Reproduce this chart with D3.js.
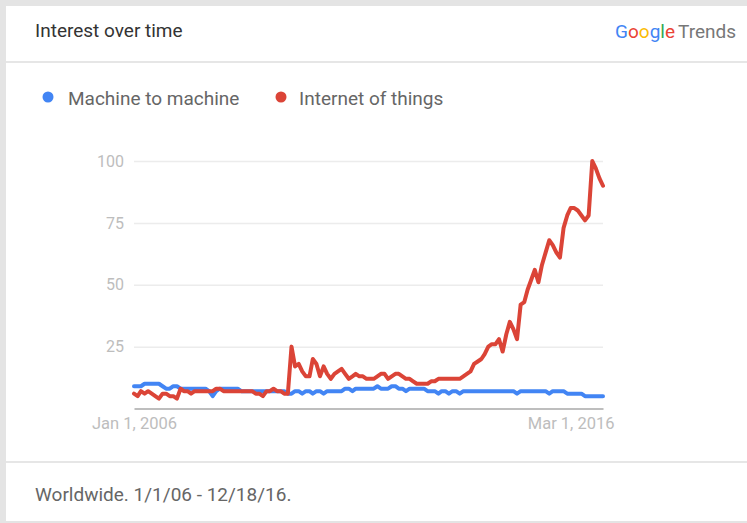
<!DOCTYPE html>
<html>
<head>
<meta charset="utf-8">
<script src="https://cdn.jsdelivr.net/npm/d3@7"></script>
<style>
  html, body { margin: 0; padding: 0; background: #e4e4e4; }
  body { width: 747px; height: 523px; overflow: hidden; font-family: Roboto, "Noto Sans", sans-serif; }
</style>
</head>
<body>
<svg id="chart" width="747" height="523"></svg>
<script>
// Monthly search interest, Jan 2006 – Dec 2016 (0–100 scale)
const startMonth = new Date(2006, 0, 1);
const seriesNames = ["Machine to machine", "Internet of things"];
const seriesColors = ["#4285f4", "#db4437"];

const machineToMachine = [
  9, 9, 9, 10, 10, 10, 10, 10, 9, 8, 8, 9, 9, 8, 8, 8, 8, 8, 8, 8,
  8, 7, 5, 7, 8, 8, 8, 8, 8, 8, 7, 7, 7, 7, 7, 7, 7, 7, 7, 7,
  7, 7, 7, 6, 6, 7, 7, 6, 7, 7, 6, 7, 7, 6, 7, 7, 7, 7, 7, 8,
  8, 7, 8, 8, 8, 8, 8, 8, 9, 8, 8, 8, 9, 9, 8, 8, 7, 8, 8, 8,
  8, 8, 7, 7, 7, 6, 7, 7, 6, 7, 7, 6, 7, 7, 7, 7, 7, 7, 7, 7,
  7, 7, 7, 7, 7, 7, 7, 6, 7, 7, 7, 7, 7, 7, 7, 7, 6, 7, 7, 7,
  7, 6, 6, 6, 6, 6, 5, 5, 5, 5, 5, 5
];

const internetOfThings = [
  6, 5, 7, 6, 7, 6, 5, 4, 6, 6, 5, 5, 4, 8, 7, 7, 6, 7, 7, 7,
  7, 7, 7, 8, 8, 7, 7, 7, 7, 7, 7, 7, 7, 7, 6, 6, 5, 7, 7, 8,
  7, 7, 6, 6, 25, 17, 18, 15, 13, 13, 20, 18, 13, 17, 14, 12, 14, 15, 16, 14,
  12, 13, 14, 13, 13, 12, 12, 12, 13, 14, 14, 12, 13, 14, 14, 13, 12, 12, 11, 10,
  10, 10, 10, 11, 11, 12, 12, 12, 12, 12, 12, 12, 13, 14, 15, 18, 19, 20, 22, 25,
  26, 26, 28, 23, 30, 35, 32, 28, 42, 43, 48, 52, 56, 51, 58, 63, 68, 66, 63, 61,
  73, 78, 81, 81, 80, 78, 76, 78, 100, 97, 93, 90
];

const yTicks = [25, 50, 75, 100];
const xTickDates = [new Date(2006, 0, 1), new Date(2016, 2, 1)];
const xTickLabels = ["Jan 1, 2006", "Mar 1, 2016"];

const months = d3.range(internetOfThings.length).map(i => d3.timeMonth.offset(startMonth, i));
const series = [machineToMachine, internetOfThings];

const svg = d3.select("#chart");

// Card
svg.append("rect").attr("x", 6).attr("y", 6).attr("width", 760).attr("height", 515).attr("fill", "#fff");
svg.append("line").attr("x1", 6).attr("x2", 747).attr("y1", 62).attr("y2", 62)
  .attr("stroke", "#e6e6e6").attr("stroke-width", 2);
svg.append("line").attr("x1", 6).attr("x2", 747).attr("y1", 462).attr("y2", 462)
  .attr("stroke", "#e6e6e6").attr("stroke-width", 2);

// Header
svg.append("text").attr("x", 35).attr("y", 37)
  .attr("font-size", 19).attr("fill", "#333").text("Interest over time");

const logo = svg.append("text").attr("x", 736).attr("y", 38).attr("text-anchor", "end")
  .attr("font-size", 19);
[["G", "#4285f4"], ["o", "#ea4335"], ["o", "#fbbc05"], ["g", "#4285f4"], ["l", "#34a853"], ["e", "#ea4335"]]
  .forEach(([c, col]) => logo.append("tspan").attr("fill", col).text(c));
logo.append("tspan").attr("fill", "#777").attr("dx", 3).text("Trends");

// Legend
const legendDotX = [48, 281];
const legendTextX = [68, 299];
seriesNames.forEach((name, i) => {
  svg.append("circle").attr("cx", legendDotX[i]).attr("cy", 97).attr("r", 5.5).attr("fill", seriesColors[i]);
  svg.append("text").attr("x", legendTextX[i]).attr("y", 105)
    .attr("font-size", 19).attr("fill", "#666").text(name);
});

// Plot
const x = d3.scaleTime().domain([months[0], months[months.length - 1]]).range([134, 603]);
const y = d3.scaleLinear().domain([0, 100]).range([408.5, 161]);

const yAxis = svg.append("g").attr("transform", "translate(134,0)")
  .call(d3.axisLeft(y).tickValues(yTicks).tickSize(-469).tickPadding(10));
yAxis.select(".domain").remove();
yAxis.selectAll(".tick line").attr("stroke", "#ececec").attr("stroke-width", 1.5);
yAxis.selectAll(".tick text").attr("fill", "#bdbdbd").attr("font-size", 16)
  .attr("font-family", "Roboto, sans-serif");

const xAxis = svg.append("g").attr("transform", `translate(0,${y(0)})`)
  .call(d3.axisBottom(x).tickValues(xTickDates).tickSize(0).tickPadding(9)
    .tickFormat((d, i) => xTickLabels[i]));
xAxis.select(".domain").attr("stroke", "#a8a8a8").attr("stroke-width", 1.5);
xAxis.selectAll(".tick text").attr("fill", "#bdbdbd").attr("font-size", 16.5)
  .attr("font-family", "Roboto, sans-serif");

const line = d3.line().x((d, i) => x(months[i])).y(d => y(d));
series.forEach((vals, i) => {
  svg.append("path").datum(vals).attr("d", line)
    .attr("fill", "none").attr("stroke", seriesColors[i])
    .attr("stroke-width", 4).attr("stroke-linejoin", "round").attr("stroke-linecap", "round");
});

// Footer
svg.append("text").attr("x", 35).attr("y", 501)
  .attr("font-size", 19).attr("fill", "#666").text("Worldwide. 1/1/06 - 12/18/16.");
</script>
</body>
</html>
